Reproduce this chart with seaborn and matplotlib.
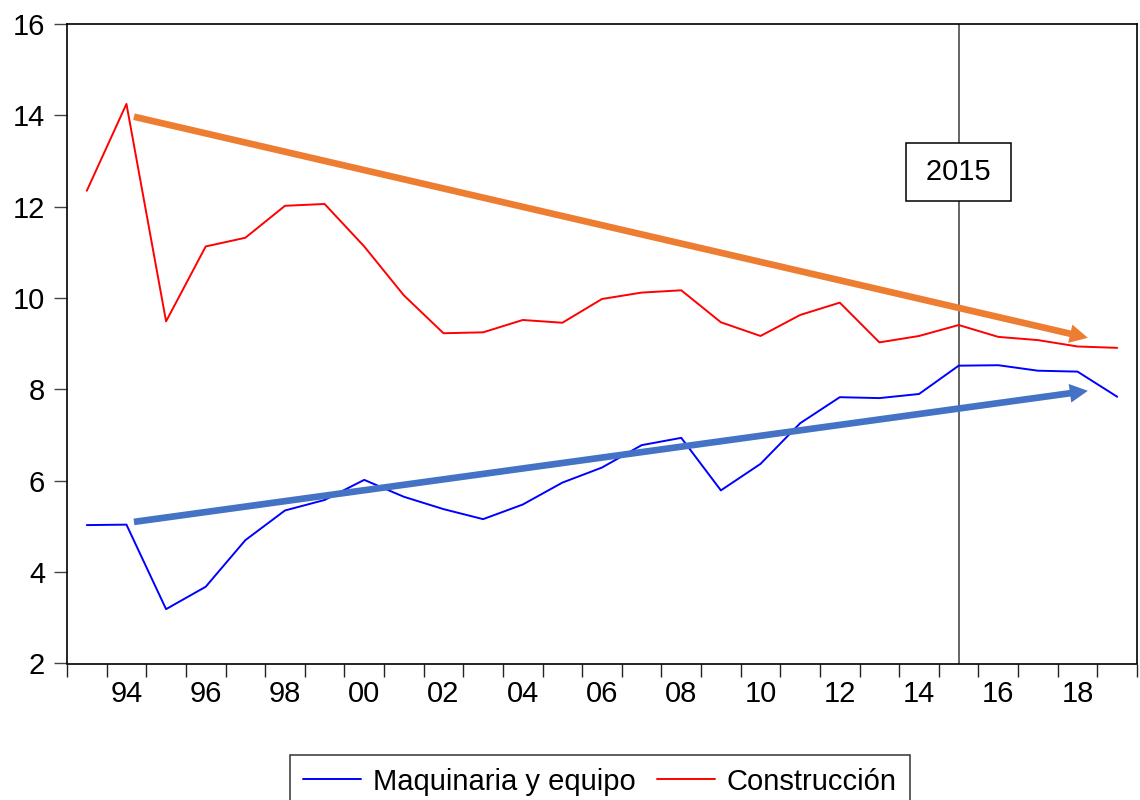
import matplotlib
matplotlib.use("Agg")
import matplotlib.pyplot as plt
import numpy as np
import pandas as pd
import seaborn as sns

# Annual series, 1993-2019
years = list(range(1993, 2020))
maquinaria = [5.03, 5.04, 3.19, 3.68, 4.70, 5.35, 5.58, 6.02, 5.65, 5.38,
              5.16, 5.48, 5.96, 6.29, 6.78, 6.94, 5.79, 6.37, 7.26, 7.83,
              7.81, 7.90, 8.52, 8.53, 8.41, 8.39, 7.84]
construccion = [12.35, 14.25, 9.49, 11.13, 11.32, 12.02, 12.06, 11.13, 10.06, 9.23,
                9.25, 9.52, 9.46, 9.98, 10.12, 10.17, 9.47, 9.17, 9.63, 9.90,
                9.03, 9.17, 9.41, 9.15, 9.08, 8.94, 8.91]
series_names = ["Maquinaria y equipo", "Construcción"]
series_colors = ["#0000FF", "#FF0000"]

# Trend arrows: (start year, start value, end year, end value)
trend_construccion = (1994.19, 13.97, 2018.26, 9.13)
trend_maquinaria = (1994.19, 5.10, 2018.26, 7.97)

marker_year = 2015
marker_label = "2015"
y_ticks = [2, 4, 6, 8, 10, 12, 14, 16]
x_label_years = list(range(1994, 2019, 2))

FS = 21

df = pd.DataFrame({
    "year": years * 2,
    "value": maquinaria + construccion,
    "serie": [series_names[0]] * len(years) + [series_names[1]] * len(years),
})

sns.set_theme(style="white")
plt.rcParams["font.family"] = ["Liberation Sans", "DejaVu Sans"]
plt.rcParams["text.color"] = "black"

fig = plt.figure(figsize=(11.4, 8), dpi=100)
ax = fig.add_axes([67 / 1140, 1 - 663.5 / 800, 1070 / 1140, (663.5 - 24) / 800])

sns.lineplot(data=df, x="year", y="value", hue="serie", hue_order=series_names,
             palette=series_colors, linewidth=1.4, ax=ax, legend=True)

# Reference line and label for 2015
ax.axvline(marker_year, color="#3a3a3a", linewidth=1.1, zorder=1)
ax.text(marker_year, 12.76, "\u2009" + marker_label + "\u2009", ha="center",
        va="center", fontsize=FS, color="black", zorder=4,
        bbox=dict(boxstyle="square,pad=0.5", facecolor="white",
                  edgecolor="black", linewidth=1.1))

# Trend arrows
for (x0, y0, x1, y1), col in [(trend_construccion, "#ED7D31"),
                              (trend_maquinaria, "#4472C4")]:
    ax.annotate("", xy=(x1, y1), xytext=(x0, y0),
                arrowprops=dict(arrowstyle="simple,head_length=13,head_width=13.5,tail_width=4.8",
                                mutation_scale=1, facecolor=col, edgecolor="none",
                                linewidth=0, shrinkA=0, shrinkB=0),
                zorder=3)

ax.set_xlim(1992.5, 2019.5)
ax.set_ylim(2, 16)
ax.set_xlabel("")
ax.set_ylabel("")

ax.set_yticks(y_ticks)
ax.set_yticklabels([str(v) for v in y_ticks])
ax.set_xticks(x_label_years)
ax.set_xticklabels([f"{y % 100:02d}" for y in x_label_years])
ax.set_xticks(np.arange(1992.5, 2020, 1.0), minor=True)

ax.tick_params(axis="y", which="major", direction="out", length=9.4, width=1,
               color="#444444", labelsize=FS, pad=6.3, left=True, labelcolor="black")
ax.tick_params(axis="x", which="major", length=0, labelsize=FS, pad=12,
               labelcolor="black")
ax.tick_params(axis="x", which="minor", direction="out", length=9.4, width=1,
               color="#222222", bottom=True)

for side in ["left", "right", "top", "bottom"]:
    ax.spines[side].set_visible(True)
    ax.spines[side].set_color("black")
    ax.spines[side].set_linewidth(1.2)

handles, labels = ax.get_legend_handles_labels()
ax.get_legend().remove()
leg = fig.legend(handles, labels, ncol=2, loc="upper center",
                 bbox_to_anchor=(600 / 1140, 1 - 754.5 / 800), frameon=True,
                 fancybox=False, edgecolor="black", fontsize=FS,
                 handlelength=2.0, handletextpad=0.41, columnspacing=0.7,
                 borderpad=0.45, borderaxespad=0, labelcolor="black")
leg.get_frame().set_linewidth(1.1)
for line in leg.get_lines():
    line.set_linewidth(1.4)

fig.savefig("out.png", dpi=100, facecolor="white")
